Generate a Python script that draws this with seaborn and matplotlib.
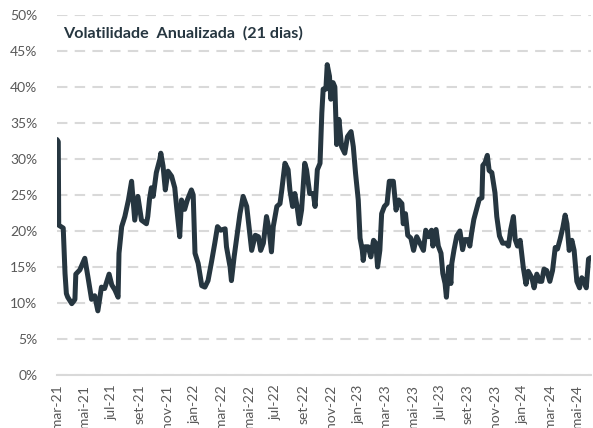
import pandas as pd
import matplotlib.pyplot as plt
from matplotlib.ticker import PercentFormatter
import seaborn as sns

# Volatility readings (percent)
dates = [
    "2021-03-01", "2021-03-04", "2021-03-05", "2021-03-15", "2021-03-19", "2021-03-22",
    "2021-03-25", "2021-04-03", "2021-04-08", "2021-04-10", "2021-04-12", "2021-04-21",
    "2021-05-02", "2021-05-09", "2021-05-17", "2021-05-24", "2021-05-31", "2021-06-08",
    "2021-06-15", "2021-06-25", "2021-07-01", "2021-07-08", "2021-07-15", "2021-07-17",
    "2021-07-23", "2021-07-30", "2021-08-07", "2021-08-14", "2021-08-21", "2021-08-28",
    "2021-09-05", "2021-09-16", "2021-09-19", "2021-09-23", "2021-09-27", "2021-10-01",
    "2021-10-08", "2021-10-16", "2021-10-18", "2021-10-23", "2021-10-28", "2021-11-03",
    "2021-11-11", "2021-11-18", "2021-11-22", "2021-11-29", "2021-12-03", "2021-12-10",
    "2021-12-16", "2021-12-25", "2021-12-29", "2022-01-02", "2022-01-09", "2022-01-17",
    "2022-01-24", "2022-01-31", "2022-02-08", "2022-02-15", "2022-02-21", "2022-02-28",
    "2022-03-10", "2022-03-13", "2022-03-21", "2022-03-24", "2022-03-30", "2022-04-05",
    "2022-04-12", "2022-04-19", "2022-04-27", "2022-05-03", "2022-05-08", "2022-05-16",
    "2022-05-23", "2022-05-28", "2022-06-03", "2022-06-10", "2022-06-16", "2022-06-21",
    "2022-06-25", "2022-07-03", "2022-07-10", "2022-07-14", "2022-07-21", "2022-07-28",
    "2022-08-01", "2022-08-07", "2022-08-12", "2022-08-17", "2022-08-22", "2022-08-27",
    "2022-09-03", "2022-09-07", "2022-09-14", "2022-09-22", "2022-09-26", "2022-10-01",
    "2022-10-07", "2022-10-11", "2022-10-14", "2022-10-20", "2022-10-23", "2022-10-28",
    "2022-10-31", "2022-11-05", "2022-11-09", "2022-11-13", "2022-11-18", "2022-11-24",
    "2022-12-01", "2022-12-07", "2022-12-15", "2022-12-20", "2022-12-25", "2022-12-31",
    "2023-01-04", "2023-01-09", "2023-01-11", "2023-01-15", "2023-01-22", "2023-01-28",
    "2023-02-03", "2023-02-08", "2023-02-12", "2023-02-17", "2023-02-21", "2023-02-27",
    "2023-03-05", "2023-03-10", "2023-03-19", "2023-03-25", "2023-03-31", "2023-04-07",
    "2023-04-10", "2023-04-15", "2023-04-20", "2023-04-27", "2023-05-03", "2023-05-10",
    "2023-05-17", "2023-05-25", "2023-05-30", "2023-06-05", "2023-06-12", "2023-06-15",
    "2023-06-22", "2023-06-27", "2023-07-03", "2023-07-07", "2023-07-12", "2023-07-15",
    "2023-07-20", "2023-07-25", "2023-07-27", "2023-08-01", "2023-08-07", "2023-08-14",
    "2023-08-20", "2023-08-25", "2023-09-02", "2023-09-05", "2023-09-09", "2023-09-14",
    "2023-09-20", "2023-09-26", "2023-10-02", "2023-10-04", "2023-10-09", "2023-10-14",
    "2023-10-18", "2023-10-24", "2023-10-31", "2023-11-04", "2023-11-10", "2023-11-17",
    "2023-11-25", "2023-11-30", "2023-12-05", "2023-12-11", "2023-12-15", "2023-12-20",
    "2023-12-26", "2024-01-02", "2024-01-08", "2024-01-13", "2024-01-21", "2024-01-26",
    "2024-02-01", "2024-02-07", "2024-02-12", "2024-02-17", "2024-02-23", "2024-03-01",
    "2024-03-07", "2024-03-13", "2024-03-18", "2024-03-24", "2024-03-30", "2024-04-04",
    "2024-04-08", "2024-04-13", "2024-04-19", "2024-04-24", "2024-04-30", "2024-05-06",
    "2024-05-11", "2024-05-16", "2024-05-21", "2024-05-26", "2024-05-31",
]
vol = [
    32.7, 32.4, 20.8, 20.4, 14.1, 11.3,
    10.8, 9.9, 10.3, 10.5, 14.0, 14.6,
    16.2, 13.6, 10.5, 11.0, 8.9, 12.2,
    12.0, 14.0, 12.5, 11.8, 10.8, 16.9,
    20.6, 22.0, 24.3, 26.9, 21.5, 24.8,
    21.5, 21.0, 22.0, 24.5, 26.0, 24.8,
    28.1, 30.0, 30.8, 29.0, 25.7, 28.3,
    27.6, 26.0, 23.4, 19.2, 24.3, 23.0,
    24.3, 25.7, 25.0, 16.9, 15.5, 12.4,
    12.2, 13.1, 15.8, 18.3, 20.6, 20.1,
    20.3, 17.8, 15.0, 13.1, 16.4, 19.2,
    22.4, 24.8, 23.4, 20.1, 17.3, 19.4,
    19.2, 17.3, 18.3, 22.0, 20.1, 17.1,
    20.6, 23.4, 23.8, 25.7, 29.4, 28.5,
    25.7, 23.4, 25.2, 23.4, 21.0, 22.9,
    29.4, 28.5, 25.2, 25.2, 23.4, 28.5,
    29.4, 36.4, 39.7, 39.7, 43.1, 41.5,
    38.3, 40.6, 40.0, 32.0, 35.5, 31.7,
    30.8, 33.1, 33.8, 31.7, 28.0, 24.3,
    19.0, 17.3, 15.9, 17.8, 17.8, 16.4,
    18.7, 18.3, 15.0, 17.3, 22.4, 23.4,
    23.8, 26.9, 26.9, 22.9, 24.3, 23.8,
    21.0, 22.4, 19.4, 19.0, 17.3, 19.2,
    18.3, 17.3, 20.1, 19.2, 20.1, 17.9,
    20.2, 17.9, 16.9, 14.1, 12.7, 10.8,
    15.0, 12.7, 15.5, 17.4, 19.3, 20.0,
    17.4, 18.8, 18.8, 17.9, 19.7, 21.6,
    23.0, 24.4, 24.6, 29.1, 29.5, 30.5,
    28.4, 28.1, 25.3, 22.0, 19.3, 18.3,
    18.3, 17.9, 20.2, 22.0, 18.8, 17.9,
    18.7, 14.9, 12.6, 14.4, 13.5, 12.1,
    14.0, 13.0, 13.0, 14.7, 14.5, 13.0,
    14.5, 17.7, 17.5, 18.9, 20.5, 22.2,
    21.0, 17.3, 18.7, 17.3, 13.0, 12.1,
    13.5, 13.0, 12.1, 16.1, 16.3,
]

tick_dates = [
    "2021-03-01", "2021-05-01", "2021-07-01", "2021-09-01", "2021-11-01",
    "2022-01-01", "2022-03-01", "2022-05-01", "2022-07-01", "2022-09-01", "2022-11-01",
    "2023-01-01", "2023-03-01", "2023-05-01", "2023-07-01", "2023-09-01", "2023-11-01",
    "2024-01-01", "2024-03-01", "2024-05-01",
]
tick_labels = [
    "mar-21", "mai-21", "jul-21", "set-21", "nov-21",
    "jan-22", "mar-22", "mai-22", "jul-22", "set-22", "nov-22",
    "jan-23", "mar-23", "mai-23", "jul-23", "set-23", "nov-23",
    "jan-24", "mar-24", "mai-24",
]

df = pd.DataFrame({"data": pd.to_datetime(dates), "vol": vol})

sns.set_style("white")
plt.rcParams["font.family"] = ["Lato", "DejaVu Sans"]

fig = plt.figure(figsize=(5.93, 4.28), dpi=100)
ax = fig.add_axes([0.096, 0.124, 0.901, 0.841])

sns.lineplot(data=df, x="data", y="vol", color="#263640", linewidth=3.6, ax=ax)

ax.set_ylim(0, 50)
ax.set_yticks(range(0, 55, 5))
ax.yaxis.set_major_formatter(PercentFormatter(decimals=0))
ax.set_xlim(pd.Timestamp("2021-03-01"), pd.Timestamp("2024-06-01"))
ax.set_xticks(pd.to_datetime(tick_dates))
ax.set_xticklabels(tick_labels, rotation=90)

ax.grid(axis="y", color="#d9d9d9", linestyle=(0, (5, 3.5)), linewidth=1.5)
ax.set_axisbelow(True)
for s in ["top", "right", "left"]:
    ax.spines[s].set_visible(False)
ax.spines["bottom"].set_color("#d9d9d9")
ax.spines["bottom"].set_linewidth(1.5)
ax.tick_params(axis="both", length=0, labelsize=10, labelcolor="#595959")
ax.tick_params(axis="y", pad=14)
ax.tick_params(axis="x", pad=7)
ax.set_xlabel("")
ax.set_ylabel("")

ax.text(0.011, 0.95, "Volatilidade  Anualizada  (21 dias)", transform=ax.transAxes,
        fontsize=11.6, fontweight="bold", color="#263640", va="center", ha="left")

plt.savefig("out.png", dpi=100)
